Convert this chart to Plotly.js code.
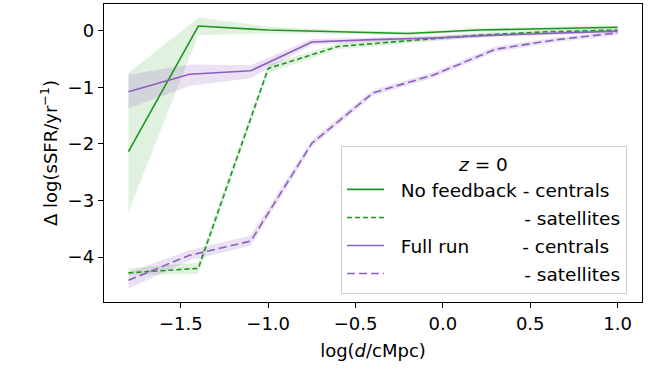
<!DOCTYPE html>
<html>
<head>
<meta charset="utf-8">
<script src="https://cdn.plot.ly/plotly-3.0.1.min.js"></script>
<style>
  html, body { margin: 0; padding: 0; background: #fff; }
  #chart { width: 659px; height: 380px; }
</style>
</head>
<body>
<div id="chart"></div>
<script>
// Radial bins (log d / cMpc) for the two runs
const xNoFeedback = [-1.8, -1.4, -1.0, -0.6, -0.2, 0.2, 0.6, 1.0];
const xFullRun = [-1.8, -1.45, -1.1, -0.75, -0.4, -0.05, 0.3, 0.65, 1.0];

// No feedback run: median offset and its uncertainty band
const nfCentrals   = [-2.14, 0.08, 0.01, -0.02, -0.05, 0.01, 0.04, 0.06];
const nfCentralsLo = [-3.20, -0.08, -0.05, -0.05, -0.08, -0.02, 0.01, 0.03];
const nfCentralsHi = [-0.75, 0.23, 0.07, 0.01, -0.02, 0.04, 0.07, 0.09];
const nfSatellites   = [-4.28, -4.20, -0.67, -0.28, -0.18, -0.08, -0.02, 0.01];
const nfSatellitesLo = [-4.32, -4.30, -0.75, -0.33, -0.22, -0.12, -0.05, -0.02];
const nfSatellitesHi = [-4.20, -4.10, -0.60, -0.23, -0.14, -0.04, 0.01, 0.04];

// Full run
const frCentrals   = [-1.08, -0.77, -0.71, -0.20, -0.16, -0.13, -0.08, -0.04, -0.01];
const frCentralsLo = [-1.37, -0.98, -0.84, -0.25, -0.20, -0.17, -0.11, -0.07, -0.04];
const frCentralsHi = [-0.78, -0.60, -0.61, -0.15, -0.12, -0.09, -0.05, -0.01, 0.02];
const frSatellites   = [-4.41, -3.97, -3.72, -1.99, -1.10, -0.78, -0.33, -0.16, -0.04];
const frSatellitesLo = [-4.556, -4.06, -3.80, -2.05, -1.15, -0.83, -0.38, -0.20, -0.08];
const frSatellitesHi = [-4.27, -3.88, -3.62, -1.93, -1.05, -0.73, -0.28, -0.12, -0.01];

const xTicks = [-1.5, -1.0, -0.5, 0.0, 0.5, 1.0];
const yTicks = [-4, -3, -2, -1, 0];

const GREEN = '#1f951f';
const PURPLE = '#8c5fbf';
const GREEN_FILL = 'rgba(44,160,44,0.15)';
const PURPLE_FILL = 'rgba(148,103,189,0.2)';
const NB = '\u00a0';
const PAD = NB + NB;

function band(x, lo, hi, fill) {
  return {
    x: x.concat(x.slice().reverse()),
    y: hi.concat(lo.slice().reverse()),
    type: 'scatter', mode: 'lines', fill: 'toself',
    fillcolor: fill, line: { width: 0 },
    hoverinfo: 'skip', showlegend: false
  };
}

function curve(x, y, color, dash, name, group) {
  return {
    x: x, y: y, type: 'scatter', mode: 'lines', name: PAD + name,
    legendgroup: group,
    line: { color: color, width: 1.6, dash: dash }
  };
}

const traces = [
  band(xNoFeedback, nfCentralsLo, nfCentralsHi, GREEN_FILL),
  band(xNoFeedback, nfSatellitesLo, nfSatellitesHi, GREEN_FILL),
  band(xFullRun, frCentralsLo, frCentralsHi, PURPLE_FILL),
  band(xFullRun, frSatellitesLo, frSatellitesHi, PURPLE_FILL),
  curve(xNoFeedback, nfCentrals, GREEN, 'solid', 'No feedback - centrals', 'a'),
  curve(xNoFeedback, nfSatellites, GREEN, '5px,3px', NB.repeat(21) + '- satellites', 'b'),
  curve(xFullRun, frCentrals, PURPLE, 'solid', 'Full run' + NB.repeat(9) + '- centrals', 'c'),
  curve(xFullRun, frSatellites, PURPLE, '8px,4px', NB.repeat(21) + '- satellites', 'd')
];

const FONT = { family: 'DejaVu Sans, sans-serif', size: 18, color: '#000' };
const LEGEND_FONT = { family: 'DejaVu Sans, sans-serif', size: 18.5, color: '#000' };

const layout = {
  width: 659, height: 380,
  margin: { l: 104, r: 17, t: 4, b: 78 },
  paper_bgcolor: '#fff', plot_bgcolor: '#fff',
  font: FONT,
  showlegend: true,
  legend: {
    x: 0.4405, y: 0.524, xanchor: 'left', yanchor: 'top',
    bgcolor: 'rgba(255,255,255,0.8)', bordercolor: '#cccccc', borderwidth: 1,
    font: LEGEND_FONT, itemwidth: 37, tracegroupgap: 1,
    title: { text: '<i>z</i> = 0', side: 'top center', font: LEGEND_FONT }
  },
  xaxis: {
    range: [-1.94, 1.14], tickvals: xTicks, tickformat: '.1f',
    ticks: 'outside', ticklen: 5, tickwidth: 1, tickcolor: '#000',
    showline: true, mirror: true, linecolor: '#000', linewidth: 1.3,
    showgrid: false, zeroline: false,
    title: { text: 'log(<i>d</i>/cMpc)', font: FONT, standoff: 11 }
  },
  yaxis: {
    range: [-4.795, 0.47], tickvals: yTicks,
    ticks: 'outside', ticklen: 5, tickwidth: 1, tickcolor: '#000',
    showline: true, mirror: true, linecolor: '#000', linewidth: 1.3,
    showgrid: false, zeroline: false,
    title: { text: 'Δ log(sSFR/yr<sup>−1</sup>)', font: FONT, standoff: 5 }
  }
};

Plotly.newPlot('chart', traces, layout, { staticPlot: true, displayModeBar: false });
</script>
</body>
</html>
